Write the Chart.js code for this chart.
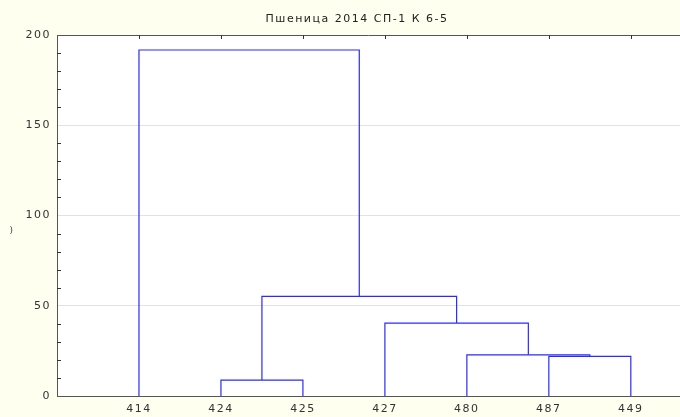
<!DOCTYPE html>
<html>
<head>
<meta charset="utf-8">
<script src="https://cdn.jsdelivr.net/npm/chart.js@4/dist/chart.umd.min.js"></script>
<style>
  html, body { margin: 0; padding: 0; background: #fffff0; }
  #wrap { width: 680px; height: 417px; }
</style>
</head>
<body>
<div id="wrap"><canvas id="c" width="680" height="417"></canvas></div>
<script>
// ---- data ----
const chartTitle = 'Пшеница 2014 СП-1 К 6-5';
const leafLabels = ['414', '424', '425', '427', '480', '487', '449'];
// merges: cluster ids 0..6 are leaves, each merge creates the next id (7, 8, ...)
const mergeLeft   = [1, 5, 4, 3, 7, 0];
const mergeRight  = [2, 6, 8, 9, 10, 11];
const mergeHeight = [8.8, 22.0, 22.8, 40.4, 55.2, 191.7];
const yTickLabels = [0, 50, 100, 150, 200];

// ---- build dendrogram links from the tree ----
const pos = leafLabels.map((_, i) => i + 1);
const hgt = leafLabels.map(() => 0);
const datasets = [];
mergeLeft.forEach((a, k) => {
  const b = mergeRight[k], h = mergeHeight[k];
  datasets.push({
    data: [
      { x: pos[a], y: hgt[a] },
      { x: pos[a], y: h },
      { x: pos[b], y: h },
      { x: pos[b], y: hgt[b] }
    ],
    showLine: true,
    borderColor: '#2b2bff',
    borderWidth: 1.2,
    pointRadius: 0,
    tension: 0,
    fill: false
  });
  pos.push((pos[a] + pos[b]) / 2);
  hgt.push(h);
});

const FONT = '"DejaVu Sans", "Liberation Sans", Arial, sans-serif';

const decor = {
  id: 'decor',
  beforeInit(chart) {
    chart.ctx.letterSpacing = '1.5px';
  },
  beforeDraw(chart) {
    const { ctx, chartArea: a } = chart;
    ctx.letterSpacing = '1.5px';
    ctx.save();
    ctx.fillStyle = '#fffff0';
    ctx.fillRect(0, 0, chart.width, chart.height);
    ctx.fillStyle = '#ffffff';
    ctx.fillRect(a.left, a.top, a.right - a.left, a.bottom - a.top);
    ctx.restore();
  },
  afterDraw(chart) {
    const { ctx, chartArea: a, scales } = chart;
    ctx.save();
    // top border
    ctx.strokeStyle = '#555555';
    ctx.lineWidth = 1;
    ctx.beginPath();
    ctx.moveTo(a.left, Math.round(a.top) + 0.5);
    ctx.lineTo(a.right, Math.round(a.top) + 0.5);
    ctx.stroke();
    // top inner ticks at categories
    ctx.strokeStyle = '#333333';
    ctx.beginPath();
    leafLabels.forEach((_, i) => {
      const x = Math.round(scales.x.getPixelForValue(i + 1)) + 0.5;
      ctx.moveTo(x, a.top);
      ctx.lineTo(x, a.top + 4);
    });
    // left minor ticks
    for (let v = 10; v < 200; v += 10) {
      if (v % 50 === 0) continue;
      const y = Math.round(scales.y.getPixelForValue(v)) + 0.5;
      ctx.moveTo(a.left, y);
      ctx.lineTo(a.left + 4, y);
    }
    ctx.stroke();
    // title
    ctx.letterSpacing = '1.5px';
    ctx.fillStyle = '#222222';
    ctx.font = '11px ' + FONT;
    ctx.textAlign = 'center';
    ctx.textBaseline = 'middle';
    ctx.fillText(chartTitle, 357, 19);
    // clipped axis title remnant
    ctx.fillStyle = '#444444';
    ctx.font = '9px ' + FONT;
    ctx.fillText(')', 12, 231);
    ctx.restore();
  }
};

new Chart(document.getElementById('c'), {
  type: 'scatter',
  data: { datasets },
  options: {
    responsive: false,
    animation: false,
    layout: { padding: { top: 35, left: 0, right: 0, bottom: 0 } },
    plugins: { legend: { display: false }, tooltip: { enabled: false }, title: { display: false } },
    scales: {
      x: {
        type: 'linear',
        min: 0,
        max: 7.6,
        afterFit: s => { s.height = 21; },
        afterBuildTicks: s => { s.ticks = leafLabels.map((_, i) => ({ value: i + 1 })); },
        ticks: {
          autoSkip: false,
          maxRotation: 0,
          padding: 7,
          color: '#333333',
          font: { family: FONT, size: 11 },
          callback: v => leafLabels[v - 1]
        },
        grid: { display: false, drawTicks: false },
        border: { display: true, color: '#555555', width: 1 }
      },
      y: {
        min: 0,
        max: 200,
        afterFit: s => { s.width = 57; },
        afterBuildTicks: s => { s.ticks = yTickLabels.map(v => ({ value: v })); },
        ticks: {
          padding: 6,
          color: '#333333',
          font: { family: FONT, size: 11 },
          callback: v => String(v)
        },
        grid: {
          drawTicks: false,
          color: ctx => (ctx.tick && ctx.tick.value > 0 && ctx.tick.value < 200) ? '#e2e2e2' : 'rgba(0,0,0,0)',
          lineWidth: 1
        },
        border: { display: true, color: '#555555', width: 1 }
      }
    }
  },
  plugins: [decor]
});
</script>
</body>
</html>
